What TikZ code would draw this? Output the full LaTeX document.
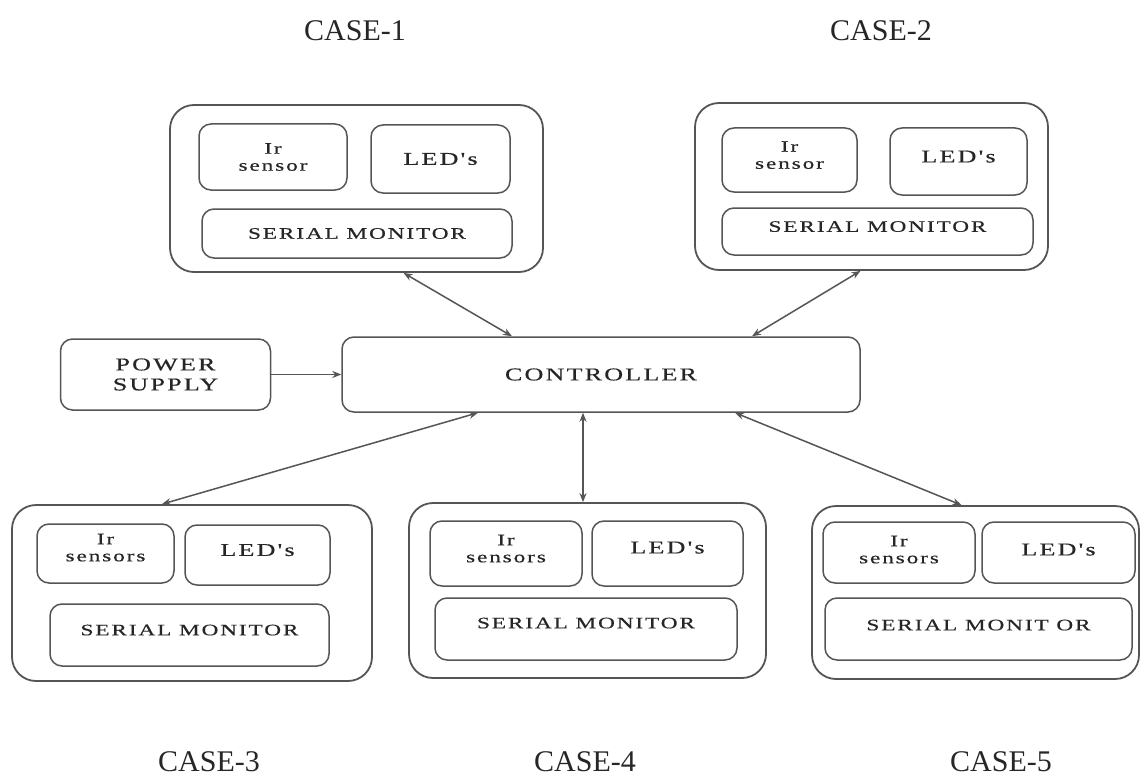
\documentclass[tikz,border=0pt]{standalone}
\usepackage{fontspec}
\setmainfont{Liberation Serif}
\newfontfamily\wide[FakeStretch=1.45,LetterSpace=12,FakeBold=0.5]{Liberation Serif}
\usetikzlibrary{positioning,arrows.meta}
\definecolor{linegray}{HTML}{555555}
\definecolor{inkgray}{HTML}{262626}

\begin{document}
\begin{tikzpicture}[x=1pt,y=-1pt,>={Stealth[length=9pt,width=7pt]},
  case box/.style={draw=linegray,line width=1.8pt,rounded corners=24pt,inner sep=0pt},
  part/.style={draw=linegray,line width=1.5pt,rounded corners=12pt,inner sep=0pt,align=center,
    text=inkgray,font=\wide\fontsize{16}{17}\selectfont},
  big part/.style={part,font=\wide\fontsize{18}{20}\selectfont},
  led part/.style={part,font=\wide\fontsize{18}{19}\selectfont},
  serial part/.style={part,font=\wide\fontsize{16}{17}\selectfont},
  case label/.style={text=inkgray,font=\fontsize{30}{32}\selectfont},
  dims/.style 2 args={minimum width=#1pt,minimum height=#2pt},
  lift/.style={text depth=#1pt},
  link/.style={draw=linegray,line width=1.5pt}]
  \useasboundingbox[fill=white] (0,0) rectangle (1140,781);

  % controller and supply
  \node[big part,dims={518}{75}] (ctrl) at (601,374.5) {CONTROLLER};
  \node[big part,dims={210}{71},left=70pt of ctrl] (pwr) {POWER\\SUPPLY};

  % case 1
  \node[case box,dims={373}{167}] (case1) at (356.5,188.5) {};
  \node[part,dims={148}{66}] (ir1) at (273,157) {Ir\\sensor};
  \node[led part,dims={139}{68}] (led1) at (440.5,159) {LED's};
  \node[serial part,dims={310}{49}] (ser1) at (357,233.5) {SERIAL MONITOR};

  % case 2
  \node[case box,dims={353}{167}] (case2) at (871.5,186.5) {};
  \node[part,dims={135}{64},lift=10] (ir2) at (789.5,160) {Ir\\sensor};
  \node[led part,dims={137}{67},lift=10] (led2) at (958.5,161.5) {LED's};
  \node[serial part,dims={311}{47},lift=10] (ser2) at (877.5,231.5) {SERIAL MONITOR};

  % case 3
  \node[case box,dims={360}{176}] (case3) at (192,593) {};
  \node[part,dims={137}{59},lift=12] (ir3) at (105.5,553.5) {Ir\\sensors};
  \node[led part,dims={145}{60},lift=10] (led3) at (257.5,555) {LED's};
  \node[serial part,dims={279}{62},lift=10] (ser3) at (189.5,635) {SERIAL MONITOR};

  % case 4
  \node[case box,dims={357}{175}] (case4) at (587.5,590.5) {};
  \node[part,dims={152}{65},lift=10] (ir4) at (506,553.5) {Ir\\sensors};
  \node[led part,dims={151}{65},lift=12] (led4) at (667.5,553.5) {LED's};
  \node[serial part,dims={302}{62},lift=12] (ser4) at (586,629) {SERIAL MONITOR};

  % case 5
  \node[case box,dims={327}{173}] (case5) at (975.5,592.5) {};
  \node[part,dims={152}{61},lift=6] (ir5) at (899,552.5) {Ir\\sensors};
  \node[led part,dims={153}{61},lift=6] (led5) at (1058.5,552.5) {LED's};
  \node[serial part,dims={307}{62},lift=8] (ser5) at (978.5,629) {SERIAL MONIT OR};

  % labels
  \node[case label] (lab1) at (355,31) {CASE-1};
  \node[case label] (lab2) at (881,31) {CASE-2};
  \node[case label] (lab3) at (209,762) {CASE-3};
  \node[case label] (lab4) at (585,762) {CASE-4};
  \node[case label] (lab5) at (1001,762) {CASE-5};

  % links
  \draw[link,->] (pwr.east) -- (ctrl.west);
  \draw[link,<->] ([xshift=47pt]case1.south) -- ([xshift=-89pt]ctrl.north);
  \draw[link,<->] ([xshift=-11pt]case2.south) -- ([xshift=151pt]ctrl.north);
  \draw[link,<->] ([xshift=-123pt]ctrl.south) -- ([xshift=-30pt]case3.north);
  \draw[link,<->] ([xshift=-18pt]ctrl.south) -- ([xshift=-4.5pt]case4.north);
  \draw[link,<->] ([xshift=134pt]ctrl.south) -- ([xshift=-14pt]case5.north);
\end{tikzpicture}
\end{document}
